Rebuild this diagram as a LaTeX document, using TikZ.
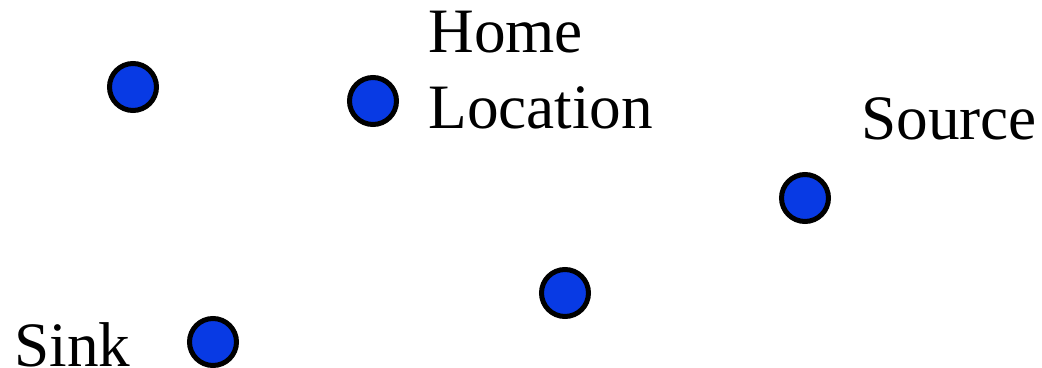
\documentclass[tikz,border=0pt]{standalone}
\usepackage{fontspec}
\setmainfont{Liberation Serif}
\usetikzlibrary{positioning}
\definecolor{dotblue}{RGB}{8, 58, 228}

\begin{document}
\begin{tikzpicture}[x=0.02cm, y=-0.02cm,
  sensor/.style={circle, draw=black, line width=0.1cm, fill=dotblue, minimum size=0.94cm, inner sep=0pt},
  lbl/.style={anchor=base west, inner sep=0pt, font=\fontsize{36}{43}\selectfont}]
  \useasboundingbox (0,0) rectangle (1042,368);

  % Knoten
  \node[sensor] (n1) at (133,87) {};
  \node[sensor] (home) at (373,101) {};
  \node[sensor] (source) at (805,198) {};
  \node[sensor] (n4) at (565,293) {};
  \node[sensor] (sink) at (213,342) {};

  % Beschriftungen
  \node[lbl] (homeA) at (428,53) {Home};
  \node[lbl] (homeB) at (428,129) {Location};
  \node[lbl] (srcl) at (861,140) {Source};
  \node[lbl] (sinkl) at (14,366) {Sink};
\end{tikzpicture}
\end{document}
